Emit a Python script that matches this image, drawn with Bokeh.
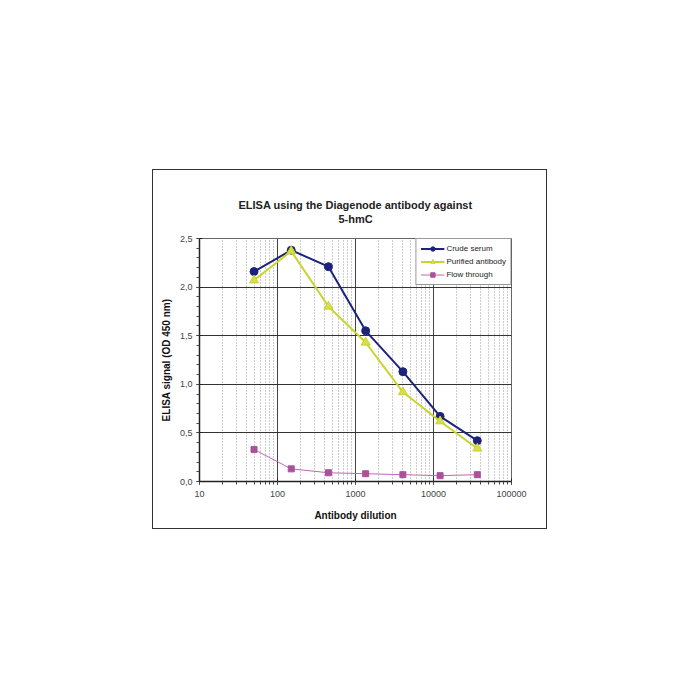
from bokeh.plotting import figure
from bokeh.models import (LogTicker, SingleIntervalTicker, Title,
                          CustomJSTickFormatter, Legend, LegendItem)
from bokeh.embed import file_html
from bokeh.resources import INLINE

dilution = [50, 150, 450, 1350, 4050, 12150, 36450]
crude_serum = [2.16, 2.38, 2.21, 1.55, 1.13, 0.67, 0.42]
purified_antibody = [2.07, 2.37, 1.80, 1.43, 0.92, 0.62, 0.34]
flow_through = [0.33, 0.13, 0.09, 0.08, 0.07, 0.06, 0.07]

title_lines = ["ELISA using the Diagenode antibody against", "5-hmC"]
x_label = "Antibody dilution"
y_label = "ELISA signal (OD 450 nm)"
series_names = ["Crude serum", "Purified antibody", "Flow through"]

FONT = "Liberation Sans"

p = figure(x_axis_type="log", x_range=(10, 100000), y_range=(0, 2.5),
           frame_width=312, frame_height=243,
           min_border_left=46, min_border_right=35,
           min_border_top=68, min_border_bottom=47,
           output_backend="svg", toolbar_location=None, title=None,
           background_fill_color="white", border_fill_color="white")
p.margin = (169, 0, 0, 152)
p.styles = {"border": "1.5px solid #333333"}
p.outline_line_color = "#666666"

# spacer nearest the frame, then the two centred title lines
p.add_layout(Title(text=" ", align="center", text_font=FONT,
                   text_font_size="11px", standoff=0), "above")
p.add_layout(Title(text=title_lines[1], align="center", text_font=FONT,
                   text_font_size="11px", text_font_style="bold",
                   text_color="#222222", standoff=0), "above")
p.add_layout(Title(text=title_lines[0], align="center", text_font=FONT,
                   text_font_size="11px", text_font_style="bold",
                   text_color="#222222", standoff=0), "above")

# axes
p.xaxis.ticker = LogTicker(desired_num_ticks=5, num_minor_ticks=10)
p.xaxis.formatter = CustomJSTickFormatter(code="return tick.toFixed(0);")
p.yaxis.ticker = SingleIntervalTicker(interval=0.5, num_minor_ticks=5)
p.yaxis.formatter = CustomJSTickFormatter(code="return tick.toFixed(1).replace('.', ',');")
for ax in (p.xaxis, p.yaxis):
    ax.axis_line_color = "#222222"
    ax.axis_line_width = 1.5
    ax.major_tick_line_color = "#222222"
    ax.minor_tick_line_color = "#444444"
    ax.major_tick_in = 3
    ax.major_tick_out = 3
    ax.minor_tick_in = 0
    ax.minor_tick_out = 3
    ax.major_label_text_font = FONT
    ax.major_label_text_font_size = "9px"
    ax.major_label_text_color = "#444444"
    ax.axis_label_text_font = FONT
    ax.axis_label_text_font_size = "10px"
    ax.axis_label_text_font_style = "bold"
    ax.axis_label_text_color = "#111111"
p.xaxis.axis_label = x_label
p.yaxis.axis_label = y_label
p.xaxis.major_label_standoff = 6
p.xaxis.axis_label_standoff = 10
p.yaxis.major_label_standoff = 4
p.yaxis.axis_label_standoff = 5

# grids
p.xgrid.grid_line_color = "#444444"
p.xgrid.grid_line_width = 1
p.xgrid.minor_grid_line_color = "#9a9a9a"
p.xgrid.minor_grid_line_dash = "1 2"
p.ygrid.grid_line_color = "#333333"
p.ygrid.grid_line_width = 1

# series
r1l = p.line(dilution, crude_serum, line_color="#1c237a", line_width=2)
r1m = p.scatter(dilution, crude_serum, marker="circle", size=8,
                fill_color="#1c237a", line_color="#1c237a")
r2l = p.line(dilution, purified_antibody, line_color="#c9d42c", line_width=2)
r2m = p.scatter(dilution, purified_antibody, marker="triangle", size=9,
                fill_color="#d8df46", line_color="#c9d42c")
r3l = p.line(dilution, flow_through, line_color="#c665b4", line_width=1)
r3m = p.scatter(dilution, flow_through, marker="square", size=6,
                fill_color="#a9529a", line_color="#a9529a")

legend = Legend(items=[
    LegendItem(label=series_names[0], renderers=[r1l, r1m]),
    LegendItem(label=series_names[1], renderers=[r2l, r2m]),
    LegendItem(label=series_names[2], renderers=[r3l, r3m]),
], location="top_right")
legend.label_text_font = FONT
legend.label_text_font_size = "8px"
legend.label_text_color = "#222222"
legend.glyph_height = 11
legend.glyph_width = 24
legend.label_height = 11
legend.label_standoff = 2
legend.spacing = 2
legend.padding = 4
legend.margin = 0
legend.border_line_color = "#333333"
legend.border_line_width = 1
legend.background_fill_color = "white"
legend.background_fill_alpha = 1
p.add_layout(legend)

open("out.html", "w").write(file_html(p, INLINE))
